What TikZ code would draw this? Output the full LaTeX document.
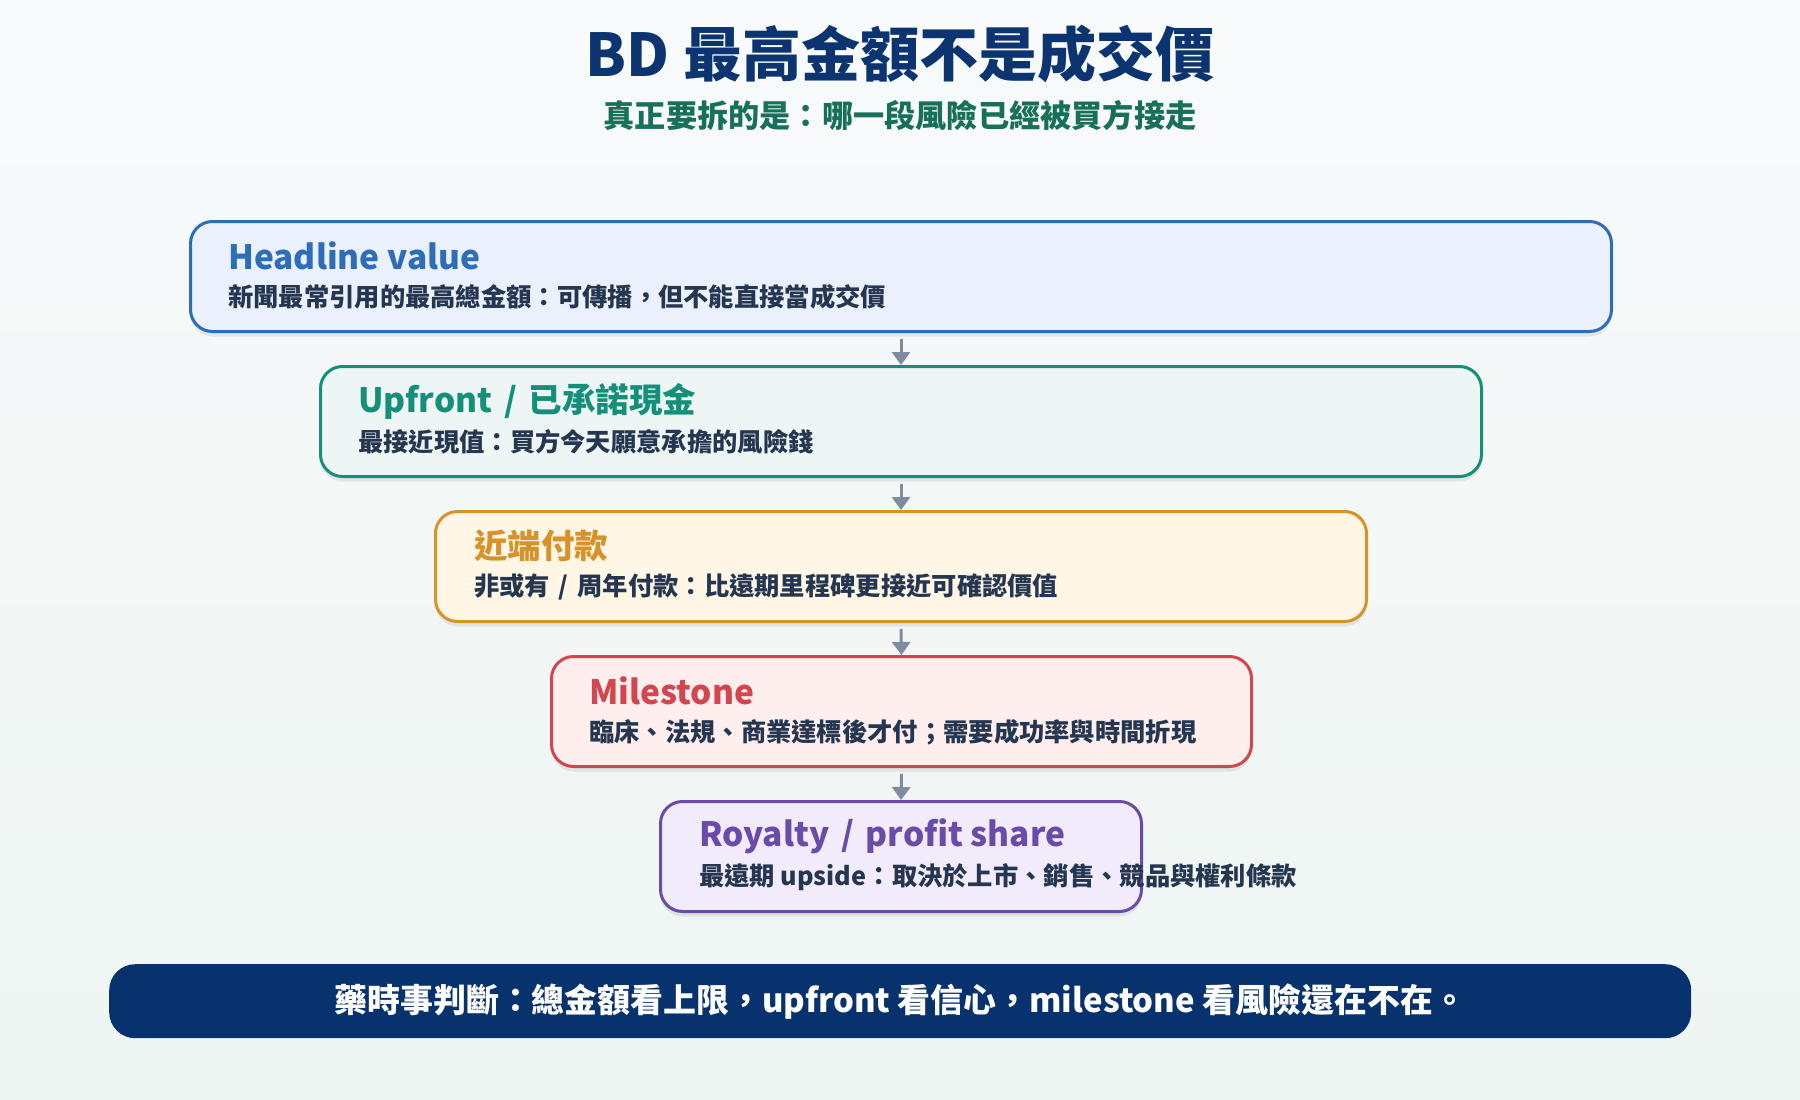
\documentclass[tikz,border=0pt]{standalone}
\usepackage{fontspec}
\setmainfont{Noto Sans CJK TC}
\usetikzlibrary{shadows,arrows.meta}
\definecolor{navy}{HTML}{0B3470}
\definecolor{subgreen}{HTML}{17705A}
\definecolor{desc}{HTML}{243650}
\definecolor{arrowc}{HTML}{7D8CA3}
\definecolor{bgtop}{HTML}{F8FAFB}
\definecolor{bgbot}{HTML}{EEF5F2}
\definecolor{bluel}{HTML}{2E6DBA}\definecolor{bluef}{HTML}{EAF1FC}
\definecolor{teall}{HTML}{14907A}\definecolor{tealf}{HTML}{EDF6F4}
\definecolor{orgl}{HTML}{D8922A}\definecolor{orgf}{HTML}{FFF6E6}
\definecolor{redl}{HTML}{D0474F}\definecolor{redf}{HTML}{FEEEEE}
\definecolor{purl}{HTML}{6A4BA8}\definecolor{purf}{HTML}{F1EBFC}
\definecolor{barc}{HTML}{08326E}
\newcommand{\slashsep}{\hspace{0.35em}/\hspace{0.35em}}
\tikzset{
  card/.style={draw=#1, line width=3pt, rounded corners=22pt, anchor=north west,
    inner sep=0pt, drop shadow={shadow xshift=0pt, shadow yshift=-5pt, opacity=0.07, fill=black}},
  cardtitle/.style={anchor=west, inner sep=0pt, text=#1, font=\fontsize{33.5}{38}\selectfont\bfseries},
  carddesc/.style={anchor=west, inner sep=0pt, text=desc, font=\fontsize{25.3}{30}\selectfont\bfseries},
  arr/.style={draw=arrowc, line width=3pt, -{Triangle[width=18pt,length=13pt]}},
}
\begin{document}
\begin{tikzpicture}[x=1pt,y=1pt]
\shade[top color=bgtop, bottom color=bgbot] (0,0) rectangle (1800,-1100);
\useasboundingbox (0,0) rectangle (1800,-1100);

\node[inner sep=0pt, text=navy, font=\fontsize{59}{66}\selectfont\bfseries] (title) at (900,-54) {BD 最高金額不是成交價};
\node[inner sep=0pt, text=subgreen, font=\fontsize{31.2}{36}\selectfont\bfseries] (subtitle) at (900,-115) {真正要拆的是：哪一段風險已經被買方接走};

% boxes
\node[card=bluel, fill=bluef, minimum width=1421pt, minimum height=110pt] (b1) at (189,-220) {};
\node[card=teall, fill=tealf, minimum width=1161pt, minimum height=110pt] (b2) at (319,-365) {};
\node[card=orgl, fill=orgf, minimum width=931pt, minimum height=110pt] (b3) at (434,-510) {};
\node[card=redl, fill=redf, minimum width=700pt, minimum height=110pt] (b4) at (550,-655) {};
\node[card=purl, fill=purf, minimum width=481pt, minimum height=110pt] (b5) at (659,-800) {};

\node[cardtitle=bluel] (t1) at (228,-256) {Headline value};
\node[carddesc] (d1) at (228,-297) {新聞最常引用的最高總金額：可傳播，但不能直接當成交價};
\node[cardtitle=teall] (t2) at (358,-401) {Upfront\slashsep 已承諾現金};
\node[carddesc] (d2) at (358,-442) {最接近現值：買方今天願意承擔的風險錢};
\node[cardtitle=orgl] (t3) at (474,-546) {近端付款};
\node[carddesc] (d3) at (474,-587) {非或有\slashsep 周年付款：比遠期里程碑更接近可確認價值};
\node[cardtitle=redl] (t4) at (589,-691) {Milestone};
\node[carddesc] (d4) at (589,-732) {臨床、法規、商業達標後才付；需要成功率與時間折現};
\node[cardtitle=purl] (t5) at (699,-836) {Royalty\slashsep profit share};
\node[carddesc] (d5) at (699,-877) {最遠期 upside：取決於上市、銷售、競品與權利條款};

\draw[arr] ([yshift=-6pt]b1.south) -- (b2.north);
\draw[arr] ([yshift=-6pt]b2.south) -- (b3.north);
\draw[arr] ([yshift=-6pt]b3.south) -- (b4.north);
\draw[arr] ([yshift=-6pt]b4.south) -- (b5.north);

\node[fill=barc, rounded corners=26pt, minimum width=1582pt, minimum height=74pt, inner sep=0pt, anchor=north west] (bar) at (109,-964) {};
\node[inner sep=0pt, text=white, font=\fontsize{32.9}{38}\selectfont\bfseries] (bartext) at (bar.center) {藥時事判斷：總金額看上限，upfront 看信心，milestone 看風險還在不在。};
\end{tikzpicture}
\end{document}
